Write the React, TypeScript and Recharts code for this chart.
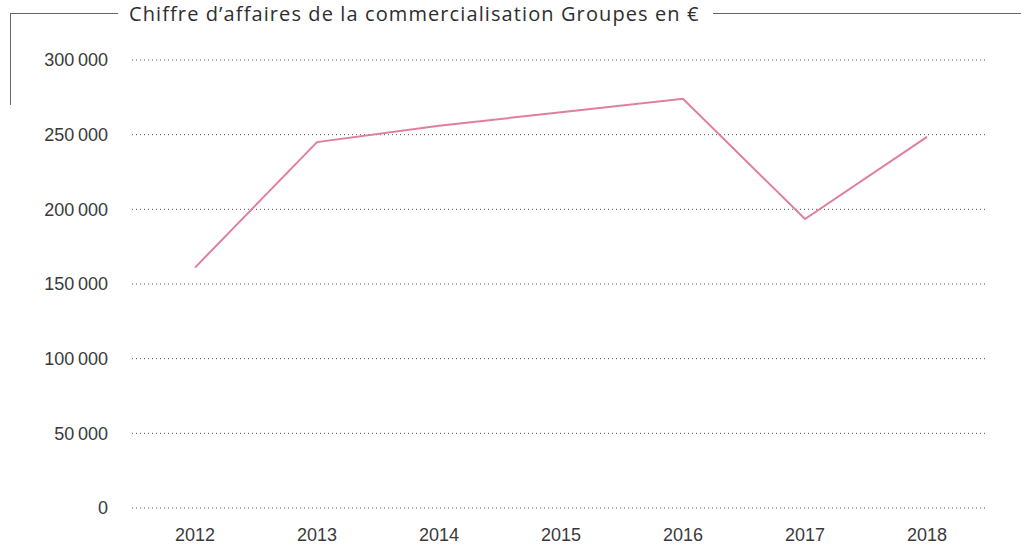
import { LineChart, Line, XAxis, YAxis, CartesianGrid } from "recharts";

const years = ["2012", "2013", "2014", "2015", "2016", "2017", "2018"];
const revenue = [161000, 245000, 256000, 265000, 274000, 193500, 248500];
const yTicks = [0, 50000, 100000, 150000, 200000, 250000, 300000];

const data = years.map((year, i) => ({ year, value: revenue[i] }));

const formatNumber = (v: number) =>
  String(v).replace(/\B(?=(\d{3})+(?!\d))/g, "\u2009");

const tickStyle = { fontSize: 18, fill: "#3a3a3a", fontFamily: "Liberation Sans, Arial, sans-serif" };

export default function App() {
  return (
    <div style={{ position: "absolute", left: 0, top: 0, width: 1021, height: 545, background: "#fff" }}>
      {/* frame around the title */}
      <div style={{ position: "absolute", left: 10, top: 13, width: 107, height: 91, borderTop: "1px solid #666", borderLeft: "1px solid #666" }} />
      <div style={{ position: "absolute", left: 713, top: 13, width: 308, borderTop: "1px solid #666" }} />
      <div
        style={{
          position: "absolute",
          left: 129,
          top: 0,
          fontFamily: "'Open Sans', sans-serif",
          fontSize: 20,
          letterSpacing: 1.1,
          lineHeight: "27px",
          color: "#2e2e2e",
          whiteSpace: "nowrap",
        }}
      >
        Chiffre d’affaires de la commercialisation Groupes en €
      </div>
      <LineChart width={1021} height={545} data={data} margin={{ top: 60, right: 35, bottom: 0, left: 0 }}>
        <CartesianGrid vertical={false} stroke="#555" strokeDasharray="1 3" />
        <XAxis
          dataKey="year"
          axisLine={false}
          tickLine={false}
          tickSize={0}
          tickMargin={20}
          height={37}
          tick={tickStyle}
          interval={0}
          padding={{ left: 63, right: 59 }}
        />
        <YAxis
          domain={[0, 300000]}
          ticks={yTicks}
          axisLine={false}
          tickLine={false}
          tickSize={0}
          tickMargin={24}
          width={132}
          tick={tickStyle}
          tickFormatter={formatNumber}
        />
        <Line
          type="linear"
          dataKey="value"
          stroke="#e07ea0"
          strokeWidth={2}
          dot={false}
          isAnimationActive={false}
        />
      </LineChart>
    </div>
  );
}
